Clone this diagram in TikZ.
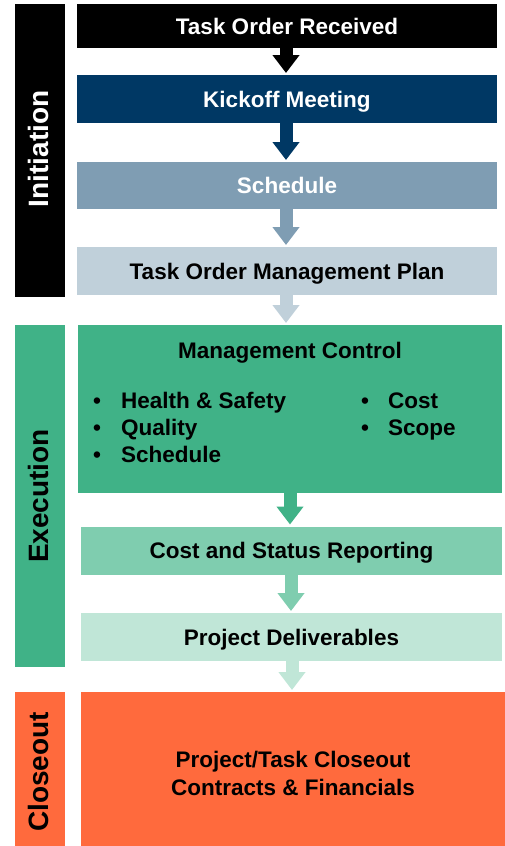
\documentclass[tikz,border=0pt]{standalone}
\usepackage{fontspec}
\setmainfont{Liberation Sans}
\usetikzlibrary{arrows.meta,calc}
\definecolor{navy}{RGB}{0,56,100}
\definecolor{schedc}{RGB}{127,157,179}
\definecolor{tompc}{RGB}{192,208,218}
\definecolor{greenc}{RGB}{64,178,135}
\definecolor{csrc}{RGB}{127,205,175}
\definecolor{pdc}{RGB}{192,230,215}
\definecolor{orangec}{RGB}{255,106,61}
\begin{document}
\begin{tikzpicture}[x=1pt,y=-1pt,
  box/.style={rectangle, inner sep=0pt, outer sep=0pt, font=\fontsize{22.5}{28}\selectfont\bfseries, align=center},
  onebox/.style={box, text height=16pt, text depth=0pt},
  bar/.style={rectangle, inner sep=0pt, outer sep=0pt, minimum width=50pt},
  barlabel/.style={rotate=90, font=\fontsize{28}{32}\selectfont\bfseries, text height=20pt, text depth=4pt},
  txt/.style={inner sep=0pt, anchor=base west, font=\fontsize{22.5}{28}\selectfont\bfseries},
  bul/.style={inner sep=0pt, anchor=base, font=\fontsize{22.5}{28}\selectfont\bfseries},
  blockarrow/.style={line width=13pt, line cap=butt, -{Triangle[width=26pt,length=18pt]}, shorten >=2pt}
]
\useasboundingbox (0,0) rectangle (505,846);
% phase bars
\node[bar, fill=black, minimum height=293pt] (ini) at (40,150.5) {};
\node[barlabel, text=white] (inil) at (40,149) {Initiation};
\node[bar, fill=greenc, minimum height=342pt] (exe) at (40,496) {};
\node[barlabel, text=black] (exel) at (40,496) {Execution};
\node[bar, fill=orangec, minimum height=154pt] (clo) at (40,769) {};
\node[barlabel, text=black] (clol) at (40,772) {Closeout};
% boxes
\node[onebox, fill=black, text=white, minimum width=420pt, minimum height=44pt] (tor) at (287,26) {Task Order Received};
\node[onebox, fill=navy, text=white, minimum width=420pt, minimum height=48pt] (kick) at (287,99) {Kickoff Meeting};
\node[onebox, fill=schedc, text=white, minimum width=420pt, minimum height=47pt] (sched) at (287,185.5) {Schedule};
\node[onebox, fill=tompc, text=black, minimum width=420pt, minimum height=48pt] (tomp) at (287,271) {Task Order Management Plan};
\node[box, fill=greenc, minimum width=424pt, minimum height=168pt] (mc) at (290,409) {};
\node[onebox, fill=csrc, minimum width=421pt, minimum height=48pt] (csr) at (291.5,550.5) {Cost and Status Reporting};
\node[onebox, fill=pdc, minimum width=421pt, minimum height=48pt] (pd) at (291.5,637) {Project Deliverables};
\node[box, fill=orangec, minimum width=424pt, minimum height=154pt] (co) at (293,769) {};
\node[bul] (cot1) at (293,767) {Project/Task Closeout};
\node[bul] (cot2) at (293,795) {Contracts \& Financials};
% management control content
\node[bul] (mct) at (290,358) {Management Control};
\node[bul] (b1) at (97,408) {•};
\node[txt] (t1) at (121,408) {Health \& Safety};
\node[bul] (b2) at (97,435) {•};
\node[txt] (t2) at (121,435) {Quality};
\node[bul] (b3) at (97,462) {•};
\node[txt] (t3) at (121,462) {Schedule};
\node[bul] (b4) at (365,408) {•};
\node[txt] (t4) at (388,408) {Cost};
\node[bul] (b5) at (365,435) {•};
\node[txt] (t5) at (388,435) {Scope};
% arrows
\draw[blockarrow, black] (286,48) coordinate (a1) -- (a1 |- kick.north);
\draw[blockarrow, navy] (286,123) coordinate (a2) -- (a2 |- sched.north);
\draw[blockarrow, schedc] (286,209) coordinate (a3) -- (a3 |- tomp.north);
\draw[blockarrow, tompc] (286,295) coordinate (a4) -- (a4 |- mc.north);
\draw[blockarrow, greenc] (290,493) coordinate (a5) -- (a5 |- csr.north);
\draw[blockarrow, csrc] (291,574) coordinate (a6) -- (a6 |- pd.north);
\draw[blockarrow, pdc] (292,661) coordinate (a7) -- (a7 |- co.north);
\end{tikzpicture}
\end{document}
